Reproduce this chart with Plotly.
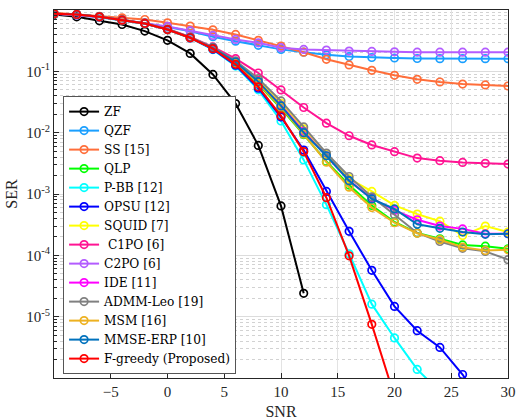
import plotly.graph_objects as go

snr = [-10, -8, -6, -4, -2, 0, 2, 4, 6, 8, 10, 12, 14, 16, 18, 20, 22, 24, 26, 28, 30]

# SER values (shorter lists stop where the curve ends)
zf = [0.845, 0.775, 0.667, 0.58, 0.453, 0.32, 0.196, 0.089, 0.0298, 0.0062, 6.4e-4, 2.4e-5]
qzf = [0.88, 0.83, 0.76, 0.68, 0.6, 0.53, 0.45, 0.366, 0.31, 0.265, 0.228, 0.205, 0.186, 0.174, 0.168, 0.165,
       0.162, 0.161, 0.161, 0.161, 0.161]
ss = [0.9, 0.845, 0.79, 0.746, 0.70, 0.618, 0.546, 0.475, 0.40, 0.32, 0.258, 0.205, 0.157, 0.127, 0.104, 0.086,
      0.074, 0.067, 0.062, 0.06, 0.0577]
qlp = [0.87, 0.845, 0.775, 0.683, 0.603, 0.48, 0.353, 0.236, 0.135, 0.062, 0.025, 0.0093, 0.0034, 0.0014,
       0.00065, 0.00035, 0.000232, 0.000186, 0.000148, 0.000141, 0.000128]
pbb = [0.87, 0.845, 0.775, 0.683, 0.603, 0.48, 0.35, 0.226, 0.122, 0.05, 0.0155, 0.0036, 0.00067, 1.06e-4,
       1.6e-5, 4.5e-6, 1.38e-6, 6e-7]
opsu = [0.87, 0.845, 0.775, 0.683, 0.603, 0.48, 0.351, 0.23, 0.126, 0.053, 0.018, 0.0052, 0.0011, 2.46e-4,
        5.7e-5, 1.47e-5, 5.9e-6, 3.15e-6, 1.14e-6, 3e-7]
squid = [0.87, 0.845, 0.775, 0.683, 0.603, 0.48, 0.355, 0.24, 0.142, 0.07, 0.03, 0.0115, 0.0045, 0.00178,
         0.0011, 0.00065, 0.00047, 0.00036, 0.00021, 0.0003, 0.00024]
c1po = [0.87, 0.845, 0.78, 0.69, 0.61, 0.49, 0.365, 0.25, 0.161, 0.094, 0.0497, 0.0257, 0.0143, 0.0089,
        0.0063, 0.0049, 0.00385, 0.0035, 0.00327, 0.00316, 0.00307]
c2po = [0.87, 0.83, 0.77, 0.69, 0.61, 0.54, 0.46, 0.385, 0.331, 0.292, 0.243, 0.228, 0.222, 0.214, 0.211,
        0.208, 0.205, 0.205, 0.205, 0.205, 0.205]
ide = [0.87, 0.845, 0.775, 0.683, 0.603, 0.48, 0.354, 0.238, 0.14, 0.066, 0.028, 0.0105, 0.0042, 0.00165,
       0.00085, 0.00054, 0.00038, 0.0003, 0.00027, 0.000225, 0.000225]
admm = [0.87, 0.845, 0.78, 0.69, 0.61, 0.49, 0.36, 0.245, 0.148, 0.076, 0.0329, 0.0124, 0.00464, 0.00193,
        0.0009, 0.00046, 0.000232, 0.000168, 0.00013, 0.000116, 8.5e-5]
msm = [0.87, 0.845, 0.775, 0.683, 0.603, 0.48, 0.353, 0.236, 0.136, 0.064, 0.026, 0.0095, 0.0033, 0.00129,
       0.0006, 0.00034, 0.000229, 0.00018, 0.000136, 0.00012, 0.000123]
mmse = [0.87, 0.845, 0.775, 0.683, 0.603, 0.48, 0.355, 0.24, 0.142, 0.068, 0.0273, 0.0100, 0.0042, 0.00165,
        0.00083, 0.00057, 0.00032, 0.000276, 0.00024, 0.00022, 0.000225]
fgreedy = [0.87, 0.845, 0.775, 0.683, 0.603, 0.48, 0.353, 0.234, 0.13, 0.056, 0.0188, 0.0049, 0.00087, 9.8e-5,
           7.5e-6, 5e-7]

series = [
    ("ZF", zf, "#000000"),
    ("QZF", qzf, "#1a9fff"),
    ("SS [15]", ss, "#ff6e3a"),
    ("QLP", qlp, "#00ff00"),
    ("P-BB [12]", pbb, "#00ffff"),
    ("OPSU [12]", opsu, "#0000ff"),
    ("SQUID [7]", squid, "#ffff00"),
    (" C1PO [6]", c1po, "#ff1493"),
    ("C2PO [6]", c2po, "#b35cff"),
    ("IDE [11]", ide, "#ff00ff"),
    ("ADMM-Leo [19]", admm, "#808080"),
    ("MSM [16]", msm, "#edb120"),
    ("MMSE-ERP [10]", mmse, "#0072bd"),
    ("F-greedy (Proposed)", fgreedy, "#ff0000"),
]

fig = go.Figure()
for name, vals, col in series:
    fig.add_trace(go.Scatter(
        x=snr[:len(vals)], y=vals, name=name, mode="lines+markers",
        line=dict(color=col, width=2),
        marker=dict(symbol="circle-open", size=7.5, color=col, line=dict(width=1.7)),
    ))

minor_y = [m * 10.0 ** e for e in range(-6, 0) for m in range(2, 10)]
font = "Liberation Serif, Times New Roman, serif"

fig.update_layout(
    width=516, height=420,
    margin=dict(l=54, r=8, t=10, b=42),
    paper_bgcolor="white", plot_bgcolor="white",
    font=dict(family=font, size=15, color="#262626"),
    showlegend=True,
    legend=dict(x=0.02, y=0.766, xanchor="left", yanchor="top",
                bgcolor="white", bordercolor="#555555", borderwidth=1,
                font=dict(family="DejaVu Serif, serif", size=12.2, color="#000000"),
                tracegroupgap=0, itemwidth=30),
)
fig.update_xaxes(
    range=[-10, 30], tickvals=[-5, 0, 5, 10, 15, 20, 25, 30],
    showgrid=True, gridcolor="#e3e3e3", gridwidth=1, automargin=False,
    showline=True, linecolor="#262626", linewidth=1, mirror=True,
    ticks="inside", ticklen=5, tickcolor="#262626", zeroline=False,
    title=dict(text="SNR", standoff=6, font=dict(family=font, size=16)),
)
fig.update_yaxes(
    type="log", range=[-6, 0], automargin=False,
    tickvals=[1, 1e-1, 1e-2, 1e-3, 1e-4, 1e-5],
    ticktext=["10<sup>0</sup>", "10<sup>-1</sup>", "10<sup>-2</sup>", "10<sup>-3</sup>",
              "10<sup>-4</sup>", "10<sup>-5</sup>"],
    showgrid=True, gridcolor="#dcdcdc", gridwidth=1,
    showline=True, linecolor="#262626", linewidth=1, mirror=True,
    ticks="inside", ticklen=5, tickcolor="#262626", zeroline=False,
    minor=dict(tickvals=minor_y, showgrid=True, gridcolor="#d2d2d2", griddash="dot",
               ticks="inside", ticklen=3, tickcolor="#262626"),
    title=dict(text="SER", standoff=4, font=dict(family=font, size=16)),
)

fig.write_html("out.html", config={"displayModeBar": False},
               post_script="document.body.style.margin='0';")
